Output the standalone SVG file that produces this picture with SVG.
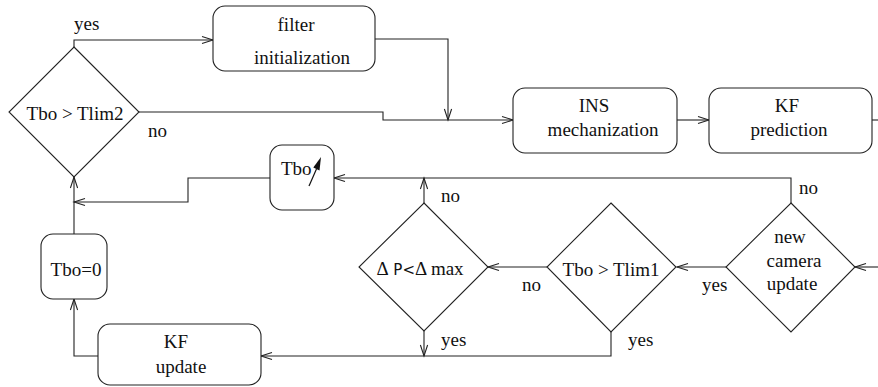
<svg xmlns="http://www.w3.org/2000/svg" width="878" height="387" viewBox="0 0 878 387">
  <style>
    .shape { fill: #ffffff; stroke: #222222; stroke-width: 1.1; }
    .wire { fill: none; stroke: #222222; stroke-width: 1.1; }
    .t { font-family: 'Liberation Serif', 'DejaVu Serif', serif; font-size: 19px; fill: #111111; }
    .c { text-anchor: middle; }
  </style>
  <defs>
    <marker id="open" markerUnits="userSpaceOnUse" viewBox="-12 -6 14 12" refX="0" refY="0" markerWidth="14" markerHeight="12" orient="auto">
      <path d="M-11,-3.6 L0,0 L-11,3.6" fill="none" stroke="#222222" stroke-width="1.1"/>
    </marker>
  </defs>

  <rect width="878" height="387" fill="#ffffff"/>

  <!-- connectors -->
  <g id="connectors">
    <path class="wire" d="M74,47 V40 H213" marker-end="url(#open)"/>
    <path class="wire" d="M375,39 H448 V120" marker-end="url(#open)"/>
    <path class="wire" d="M139,112 H383 V120 H513" marker-end="url(#open)"/>
    <path class="wire" d="M677,120 H709" marker-end="url(#open)"/>
    <path class="wire" d="M872,120 H878"/>
    <path class="wire" d="M878,267 H855" marker-end="url(#open)"/>
    <path class="wire" d="M791,203 V178 H334" marker-end="url(#open)"/>
    <path class="wire" d="M270,178 H188 V202 H74" marker-end="url(#open)"/>
    <path class="wire" d="M74,234 V177" marker-end="url(#open)"/>
    <path class="wire" d="M98,356 H74 V299" marker-end="url(#open)"/>
    <path class="wire" d="M726,267 H677" marker-end="url(#open)"/>
    <path class="wire" d="M547,267 H488" marker-end="url(#open)"/>
    <path class="wire" d="M424,203 V178" marker-end="url(#open)"/>
    <path class="wire" d="M424,331 V356" marker-end="url(#open)"/>
    <path class="wire" d="M611,332 V356 H261" marker-end="url(#open)"/>
  </g>

  <!-- branch labels -->
  <g id="labels" class="t">
    <text x="74" y="30">yes</text>
    <text x="148" y="137">no</text>
    <text x="441" y="202">no</text>
    <text x="522" y="291">no</text>
    <text x="441" y="346">yes</text>
    <text x="628" y="346">yes</text>
    <text x="702" y="291">yes</text>
    <text x="799" y="194">no</text>
  </g>

  <g id="tlim2" class="t">
    <polygon class="shape" points="74,47 139,112 74,177 9,112"/>
    <text class="c" x="75" y="120">Tbo &gt; Tlim2</text>
  </g>

  <g id="filter-init" class="t">
    <rect class="shape" x="213" y="6" width="162" height="65" rx="12"/>
    <text class="c" x="296" y="31">filter</text>
    <text class="c" x="302" y="64">initialization</text>
  </g>

  <g id="ins-mech" class="t">
    <rect class="shape" x="513" y="88" width="164" height="65" rx="12"/>
    <text class="c" x="594" y="112">INS</text>
    <text class="c" x="603" y="136">mechanization</text>
  </g>

  <g id="kf-predict" class="t">
    <rect class="shape" x="709" y="88" width="163" height="65" rx="12"/>
    <text class="c" x="787" y="112">KF</text>
    <text class="c" x="789" y="136">prediction</text>
  </g>

  <g id="tbo-inc" class="t">
    <rect class="shape" x="270" y="145" width="64" height="65" rx="12"/>
    <text x="281" y="175">Tbo</text>
    <line x1="309" y1="186" x2="316.5" y2="169" stroke="#111111" stroke-width="1.2"/>
    <polygon points="321,157 319.5,170.5 313.3,167.6" fill="#111111"/>
  </g>

  <g id="tbo-reset" class="t">
    <rect class="shape" x="41" y="234" width="66" height="65" rx="12"/>
    <text class="c" x="76" y="276">Tbo=0</text>
  </g>

  <g id="kf-update" class="t">
    <rect class="shape" x="98" y="324" width="163" height="61" rx="12"/>
    <text class="c" x="176" y="348">KF</text>
    <text class="c" x="181" y="373">update</text>
  </g>

  <g id="dp-check" class="t">
    <polygon class="shape" points="424,203 488,267 424,331 359,267"/>
    <text class="c" x="420" y="275">Δ<tspan font-family="'DejaVu Sans', sans-serif" font-size="15"> P&lt;</tspan>Δ max</text>
  </g>

  <g id="tlim1" class="t">
    <polygon class="shape" points="611,203 676,267 611,332 547,267"/>
    <text class="c" x="611" y="276">Tbo &gt; Tlim1</text>
  </g>

  <g id="camera" class="t">
    <polygon class="shape" points="791,203 855,267 791,332 726,267"/>
    <text class="c" x="790" y="243">new</text>
    <text class="c" x="794" y="267">camera</text>
    <text class="c" x="792" y="290">update</text>
  </g>
</svg>
